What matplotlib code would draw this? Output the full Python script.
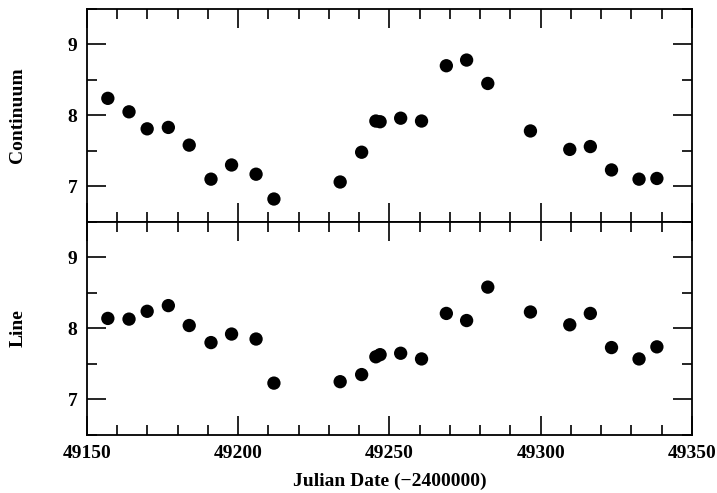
import matplotlib
matplotlib.use("Agg")
import matplotlib.pyplot as plt
from matplotlib.ticker import MultipleLocator

plt.rcParams['font.family'] = ['Liberation Serif', 'DejaVu Serif']
plt.rcParams['font.weight'] = 'bold'
plt.rcParams['mathtext.default'] = 'regular'

jd = [49156.9, 49163.9, 49169.9, 49176.9, 49183.8, 49191.0, 49197.8, 49205.9,
      49211.8, 49233.7, 49240.8, 49245.5, 49246.9, 49253.7, 49260.6, 49268.8,
      49275.5, 49282.5, 49296.6, 49309.6, 49316.4, 49323.4, 49332.5, 49338.4]
continuum = [8.24, 8.05, 7.81, 7.83, 7.58, 7.10, 7.30, 7.17,
             6.82, 7.06, 7.48, 7.92, 7.91, 7.96, 7.92, 8.70,
             8.78, 8.45, 7.78, 7.52, 7.56, 7.23, 7.10, 7.11]
line = [8.14, 8.13, 8.24, 8.32, 8.04, 7.80, 7.92, 7.85,
        7.23, 7.25, 7.35, 7.60, 7.63, 7.65, 7.57, 8.21,
        8.11, 8.58, 8.23, 8.05, 8.21, 7.73, 7.57, 7.74]
xticks = [49150, 49200, 49250, 49300, 49350]
yticks = [7, 8, 9]

fig = plt.figure(figsize=(7.17, 4.93), dpi=100)
L, R = 0.1213, 0.9651
ax1 = fig.add_axes([L, 0.5503, R - L, 0.9817 - 0.5503])
ax2 = fig.add_axes([L, 0.1176, R - L, 0.5503 - 0.1176], sharex=ax1)

FS = 14
for ax, data, lab in [(ax1, continuum, 'Continuum'), (ax2, line, 'Line')]:
    ax.scatter(jd, data, s=92, color='black', edgecolors='none', zorder=3)
    ax.set_xlim(49150, 49350)
    ax.set_ylim(6.5, 9.5)
    ax.set_xticks(xticks)
    ax.set_yticks(yticks)
    ax.xaxis.set_minor_locator(MultipleLocator(10))
    ax.yaxis.set_minor_locator(MultipleLocator(0.5))
    ax.tick_params(which='both', direction='in', top=True, right=True,
                   width=1.2, labelsize=FS)
    ax.tick_params(which='major', length=14, pad=7)
    ax.tick_params(which='minor', length=7)
    for sp in ax.spines.values():
        sp.set_linewidth(1.3)
    ax.set_ylabel(lab, fontsize=FS, fontweight='bold')
    for t in ax.get_yticklabels() + ax.get_xticklabels():
        t.set_fontweight('bold')
    ax.yaxis.set_label_coords(-0.100, 0.5)

ax1.tick_params(labelbottom=False)
ax2.set_xlabel('Julian Date (\u22122400000)', fontsize=FS, fontweight='bold', labelpad=8)

fig.savefig('out.png', dpi=100)
